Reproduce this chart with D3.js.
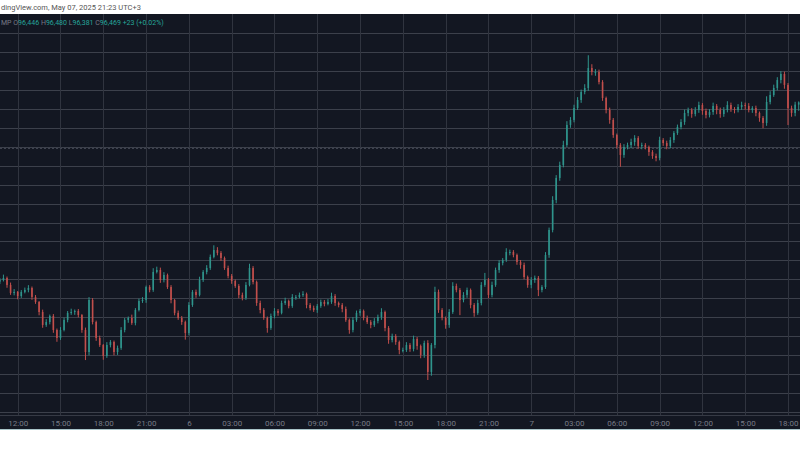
<!DOCTYPE html>
<html><head><meta charset="utf-8">
<script src="https://cdn.jsdelivr.net/npm/d3@7"></script>
<style>html,body{margin:0;padding:0;background:#fff;}svg{display:block;}</style>
</head><body>
<svg id="c" width="800" height="450"></svg>
<script>
// ---- data (15-minute candles, BTCUSD Bitstamp, UTC+3) ----
const startTime = "2025-05-05T10:45";
const intervalMinutes = 15;
const firstOpen = 94575;
const closes = [
94592,94614,94540,94455,94466,94423,94466,94487,94508,94413,94360,94254,94117,94148,94212,
94064,93979,94064,94170,94244,94254,94265,94222,94064,93831,94381,94148,93979,93905,93789,
93905,93937,93831,93874,94064,94170,94191,94138,94275,94370,94381,94518,94487,94677,94698,
94592,94645,94518,94381,94244,94191,94148,94032,94328,94466,94434,94592,94677,94719,94836,
94909,94878,94825,94719,94635,94582,94529,94434,94402,94540,94719,94571,94349,94275,94191,
94085,94212,94265,94244,94349,94370,94318,94413,94413,94434,94444,94328,94296,94275,94318,
94360,94339,94360,94423,94349,94328,94286,94170,94064,94170,94244,94265,94191,94148,94117,
94159,94201,94254,94085,93958,94000,93937,93852,93852,93905,93863,93969,93895,93800,93926,
93620,93905,94466,94275,94191,94117,94254,94529,94487,94381,94434,94487,94328,94244,94349,
94540,94592,94434,94540,94698,94772,94804,94888,94888,94857,94783,94751,94624,94540,94592,
94614,94487,94518,94857,95121,95438,95671,95808,96019,96231,96284,96410,96495,96580,96622,
96833,96791,96791,96685,96516,96389,96284,96125,96019,95914,95998,96019,96051,96093,96009,
96019,95998,95945,95903,95882,96072,96040,96009,96072,96146,96210,96262,96358,96389,96347,
96389,96442,96379,96336,96368,96432,96389,96347,96389,96442,96400,96389,96421,96442,96432,
96389,96410,96358,96305,96252,96474,96548,96622,96706,96770,96654,96410,96358,96446,96469];
const wickUp = [
20,35,15,25,30,10,20,25,30,15,20,10,25,30,15,
20,15,30,25,20,35,15,20,10,25,30,20,15,25,10,
30,20,15,25,30,20,15,35,20,25,30,15,20,40,35,
25,30,15,20,10,25,20,15,30,20,25,35,20,30,25,
50,30,20,15,25,20,15,20,25,30,45,20,15,25,20,
15,25,30,20,25,35,15,30,20,25,30,15,20,25,20,
25,20,30,35,20,15,20,25,15,30,25,20,15,25,20,
30,25,40,15,20,25,20,15,25,30,20,35,20,15,25,
30,20,55,25,20,15,30,40,25,20,30,25,15,20,35,
30,75,20,35,25,30,20,40,25,20,15,20,25,15,30,
25,20,20,30,25,40,30,35,45,40,30,35,30,25,40,
135,40,30,25,20,15,25,20,15,20,30,25,35,30,20,
25,20,15,20,25,35,20,25,30,20,25,30,35,25,20,
30,35,20,25,30,35,20,25,30,40,25,20,30,35,25,
30,20,25,15,20,60,40,35,30,30,25,20,25,30,11];
const wickDn = [
25,15,30,20,25,35,20,15,25,30,20,35,30,20,25,
30,40,20,15,25,20,30,25,30,85,35,25,30,20,40,
20,25,35,30,20,25,30,20,25,15,20,30,25,20,15,
30,25,20,35,25,20,30,70,25,20,30,15,20,25,20,
15,25,30,20,25,30,20,35,25,20,15,25,30,35,20,
50,20,25,30,15,20,25,20,30,15,20,35,25,20,30,
20,25,15,20,30,25,35,20,40,25,20,30,25,20,35,
20,25,30,35,40,25,30,45,25,20,30,25,40,35,30,
85,40,35,30,25,40,30,20,25,160,25,30,35,40,20,
25,20,35,25,20,30,25,20,35,25,30,40,25,30,35,
30,65,25,20,30,25,35,30,25,20,30,25,20,30,25,
30,35,40,25,30,35,40,30,35,125,30,25,35,40,30,
35,25,40,30,35,25,30,35,25,30,20,25,30,35,40,
25,30,40,35,25,30,45,40,30,25,30,35,25,30,40,
25,30,35,40,55,30,25,20,25,35,40,180,40,35,65];
const priceTicks = d3.range(93200, 97201, 200);
const dashedLevel = 96000;
const timeTickStart = "2025-05-05T12:00";
const timeTickEnd = "2025-05-07T18:00";
const tickStepHours = 3;
const headerText = "dingView.com, May 07, 2025 21:23 UTC+3";
const legendParts = [["MP ","#787b86"],["O","#787b86"],["96,446 ","#26a69a"],["H","#787b86"],["96,480 ","#26a69a"],["L","#787b86"],["96,381 ","#26a69a"],["C","#787b86"],["96,469 ","#26a69a"],["+23 (+0.02%)","#26a69a"]];

// ---- build ----
const parse = s => new Date(s + ":00Z");
const t0 = parse(startTime);
const candles = closes.map((c, i) => {
  const o = i === 0 ? firstOpen : closes[i - 1];
  return {t: new Date(+t0 + i * intervalMinutes * 60000), o, c,
          h: Math.max(o, c) + wickUp[i], l: Math.min(o, c) - wickDn[i]};
});

const svg = d3.select("#c");
const W = 800, plotTop = 14, axisY = 415, plotBottom = 430;
const x = d3.scaleUtc().domain([parse(timeTickStart), parse(timeTickEnd)]).range([17.7, 788]);
const y = d3.scaleLinear().domain([93200, 97200]).range([411.7, 33.3]);

svg.append("rect").attr("x",0).attr("y",0).attr("width",W).attr("height",450).attr("fill","#ffffff");
svg.append("rect").attr("x",0).attr("y",plotTop).attr("width",W).attr("height",plotBottom-plotTop).attr("fill","#131722");

// header
svg.append("text").attr("x",1).attr("y",10).attr("font-family","Roboto, 'Open Sans', sans-serif")
  .attr("font-size",7.5).attr("fill","#555").text(headerText);

// grid
const timeTicks = d3.utcHour.every(tickStepHours).range(parse(timeTickStart), new Date(+parse(timeTickEnd) + 1));
const grid = svg.append("g");
grid.selectAll("line.h").data(priceTicks).join("line")
  .attr("x1",0).attr("x2",W).attr("y1",d=>Math.round(y(d))+0.5).attr("y2",d=>Math.round(y(d))+0.5)
  .attr("stroke","#3c404b").attr("stroke-width",1);
grid.selectAll("line.v").data(timeTicks).join("line")
  .attr("x1",d=>Math.round(x(d))+0.5).attr("x2",d=>Math.round(x(d))+0.5).attr("y1",plotTop).attr("y2",axisY)
  .attr("stroke","#30343f").attr("stroke-width",1);
svg.append("line").attr("x1",0).attr("x2",W).attr("y1",Math.round(y(dashedLevel))+1.5).attr("y2",Math.round(y(dashedLevel))+1.5)
  .attr("stroke","#3f4350").attr("stroke-dasharray","2,2");

// axis
svg.append("line").attr("x1",0).attr("x2",W).attr("y1",axisY+0.5).attr("y2",axisY+0.5).attr("stroke","#363a45");
const xAxis = d3.axisBottom(x).tickValues(timeTicks).tickSize(0).tickPadding(0)
  .tickFormat(d => d.getUTCHours() === 0 ? String(d.getUTCDate()) : d3.utcFormat("%H:%M")(d));
const ax = svg.append("g").attr("transform",`translate(0,${axisY+5})`).call(xAxis);
ax.select(".domain").remove();
ax.selectAll("text").attr("fill","#787b86").attr("font-size",8).attr("font-family","Roboto, sans-serif").attr("dy","0.71em");
svg.append("line").attr("x1",0).attr("x2",W).attr("y1",plotBottom-0.5).attr("y2",plotBottom-0.5).attr("stroke","#a9c4c9");

// candles
const up = "#2f948c", dn = "#c24f4c";
const cg = svg.append("g");
cg.selectAll("line").data(candles).join("line")
  .attr("x1",d=>x(d.t)).attr("x2",d=>x(d.t)).attr("y1",d=>y(d.h)).attr("y2",d=>y(d.l))
  .attr("stroke",d=>d.c>=d.o?up:dn).attr("stroke-width",1);
cg.selectAll("rect").data(candles).join("rect")
  .attr("x",d=>x(d.t)-0.8).attr("width",1.6)
  .attr("y",d=>y(Math.max(d.o,d.c))).attr("height",d=>Math.max(1,Math.abs(y(d.o)-y(d.c))))
  .attr("fill",d=>d.c>=d.o?up:dn);

// legend
const lg = svg.append("text").attr("x",1).attr("y",25).attr("font-family","Roboto, sans-serif").attr("font-size",7);
legendParts.forEach(([t,c]) => lg.append("tspan").attr("fill",c).text(t));
</script>
</body></html>
